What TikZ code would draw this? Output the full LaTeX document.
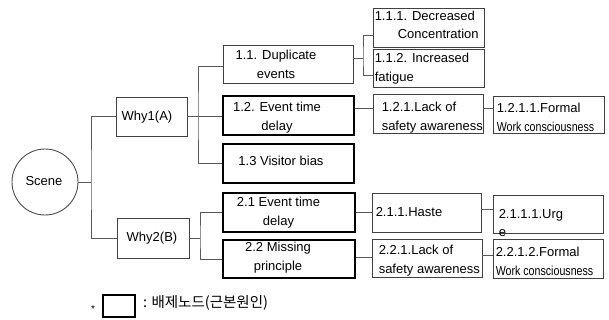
\documentclass[tikz,border=0pt]{standalone}
\usepackage{fontspec}
\usepackage{graphicx}
\setmainfont{Liberation Sans}
\newfontfamily\krfont{Noto Sans CJK KR}
\tikzset{
  every node/.style={font=\fontsize{13}{18}\selectfont},
  box/.style={draw=black!75, line width=0.9pt, inner sep=0pt, rectangle},
  rootbox/.style={draw=black, line width=2.2pt, inner sep=0pt, rectangle},
  txt/.style={inner sep=0pt, align=left, font=\fontsize{13}{18.5}\selectfont},
  ctxt/.style={inner sep=0pt, align=center, font=\fontsize{13}{19}\selectfont},
  link/.style={draw=black!65, line width=0.9pt},
}
\newcommand{\condensed}[1]{\scalebox{0.82}[1]{#1}}
\begin{document}
\begin{tikzpicture}[x=1pt,y=-1pt]
\useasboundingbox (0,0) rectangle (609,320);
% nodes
\node[draw=black!70, line width=0.9pt, circle, minimum size=66pt, inner sep=0pt] (scene) at (45,182) {};
\node[ctxt] (scenet) at (44,181) {Scene};
\node[box, minimum width=71pt, minimum height=39pt] (why1) at (151.5,116.5) {};
\node[ctxt] (why1t) at (147,117) {Why1(A)};
\node[box, minimum width=72pt, minimum height=40pt] (why2) at (153,238) {};
\node[ctxt] (why2t) at (152,238) {Why2(B)};

\node[box, minimum width=130pt, minimum height=38pt,
  label={[ctxt,xshift=-12pt]center:1.1. Duplicate\\events}] (n11) at (288,64) {};
\node[rootbox, minimum width=131pt, minimum height=39pt,
  label={[ctxt,xshift=-11.5pt,yshift=-2pt]center:1.2. Event time\\delay}] (n12) at (288.5,115.5) {};
\node[rootbox, minimum width=131pt, minimum height=39pt,
  label={[ctxt,xshift=-7.5pt,yshift=3pt]center:1.3 Visitor bias}] (n13) at (288.5,163.5) {};
\node[rootbox, minimum width=132pt, minimum height=39pt,
  label={[ctxt,xshift=-10.5pt]center:2.1 Event time\\delay}] (n21) at (289,212.5) {};
\node[rootbox, minimum width=132pt, minimum height=38pt,
  label={[ctxt,xshift=-11pt,yshift=1.5pt]center:2.2 Missing\\principle}] (n22) at (289,259) {};

\node[box, minimum width=111pt, minimum height=39pt,
  label={[txt,anchor=west,xshift=2pt,yshift=2.5pt]west:1.1.1. Decreased\\\hspace*{23pt}Concentration}] (n111) at (428.5,27.5) {};
\node[box, minimum width=111pt, minimum height=38pt,
  label={[txt,anchor=west,xshift=2pt,yshift=-0.5pt]west:1.1.2. Increased\\fatigue}] (n112) at (428.5,68) {};
\node[box, minimum width=110pt, minimum height=39pt,
  label={[txt,anchor=west,xshift=9pt,yshift=-4pt]west:1.2.1.Lack of\\safety awareness}] (n121) at (428,113.5) {};
\node[box, minimum width=111pt, minimum height=37pt,
  label={[txt,anchor=west,xshift=4pt,yshift=-3pt]west:1.2.1.1.Formal\\\condensed{Work consciousness}}] (n1211) at (548.5,114.5) {};
\node[box, minimum width=109pt, minimum height=39pt,
  label={[txt,anchor=west,xshift=4pt]west:2.1.1.Haste}] (n211) at (426.5,212.5) {};
\node[box, minimum width=110pt, minimum height=38pt,
  label={[txt,anchor=west,xshift=6pt,yshift=-9pt]west:2.1.1.1.Urg\\e}] (n2111) at (548,214) {};
\node[box, minimum width=110pt, minimum height=38pt,
  label={[txt,anchor=west,xshift=7pt,yshift=-2.5pt]west:2.2.1.Lack of\\safety awareness}] (n221) at (427,258) {};
\node[box, minimum width=110pt, minimum height=39pt,
  label={[txt,anchor=west,xshift=3pt,yshift=-3pt]west:2.2.1.2.Formal\\\condensed{Work consciousness}}] (n2212) at (548,258.5) {};

% legend
\node[inner sep=0pt, font=\fontsize{10}{10}\selectfont] (star) at (93,309) {*};
\node[rootbox, minimum width=32pt, minimum height=22pt] (legbox) at (119,306) {};
\node[inner sep=0pt, anchor=west, font=\krfont\fontsize{14.5}{16}\selectfont] (legtxt) at (143,303) {: 배제노드(근본원인)};

% connectors
\coordinate (j0) at (91,182);
\coordinate (j1) at (198,116);
\coordinate (j2) at (200,238);
\coordinate (j3) at (363,58);
\draw[link] (scene.east) -- (j0);
\draw[link] (why1.west) -| (j0) |- (why2.west);
\draw[link] (why1.east) -- (why1.east -| n12.west);
\draw[link] ([yshift=-2pt]n11.west) -| (j1) |- (n13.west);
\draw[link] (why2.east) -- (j2);
\draw[link] (n21.west) -| (j2) |- (n22.west);
\draw[link] (j3 -| n11.east) -- (j3);
\draw[link] ([yshift=-7.5pt]n111.west) -| (j3) |- ([yshift=-7pt]n112.west);
\draw[link] ([yshift=7pt]n12.east) -- ([yshift=7pt]n12.east -| n121.west);
\draw[link] ([yshift=5.5pt]n121.east) -- ([yshift=5.5pt]n121.east -| n1211.west);
\draw[link] (n21.east) -- (n21.east -| n211.west);
\draw[link] ([yshift=3.5pt]n211.east) -- ([yshift=3.5pt]n211.east -| n2111.west);
\draw[link] ([yshift=2pt]n22.east) -- ([yshift=2pt]n22.east -| n221.west);
\draw[link] ([yshift=3pt]n221.east) -- ([yshift=3pt]n221.east -| n2212.west);
\end{tikzpicture}
\end{document}
